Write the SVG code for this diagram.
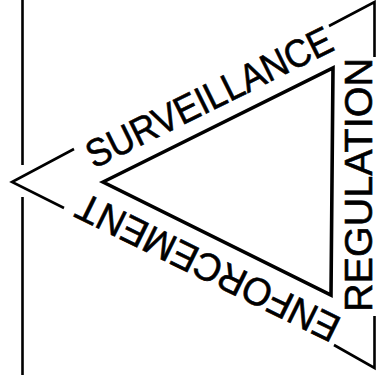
<svg xmlns="http://www.w3.org/2000/svg" width="377" height="375" viewBox="0 0 377 375">
<style>
.ln{fill:none;stroke:#000;stroke-width:2.6;stroke-linecap:butt}
.in{fill:none;stroke:#000;stroke-width:3.6;stroke-linejoin:miter}
.lb{font-family:"Liberation Sans",Arial,sans-serif;font-size:39px;fill:#000;stroke:#000;stroke-width:0.6}
</style>
<rect width="377" height="375" fill="#fff"/>
<g id="connectors">
<path class="ln" d="M22.5,0 V165 M22.5,197 V375"/>
<path class="ln" d="M74,149 L12,182 L64,208"/>
<path class="ln" d="M329,26 L374.5,2 V57"/>
<path class="ln" d="M374.5,316 V368 L334,345"/>
</g>
<g id="inner-triangle">
<polygon class="in" points="103,182 333,68 331,295"/>
</g>
<g id="surveillance">
<text class="lb" transform="translate(94,169) rotate(-26.3)" textLength="270" lengthAdjust="spacingAndGlyphs">SURVEILLANCE</text>
</g>
<g id="enforcement">
<text class="lb" transform="translate(343,319) rotate(206.2)" textLength="288" lengthAdjust="spacingAndGlyphs">ENFORCEMENT</text>
</g>
<g id="regulation">
<text class="lb" style="font-size:39px" transform="translate(372,312) rotate(-90)" textLength="254" lengthAdjust="spacingAndGlyphs">REGULATION</text>
</g>
</svg>
